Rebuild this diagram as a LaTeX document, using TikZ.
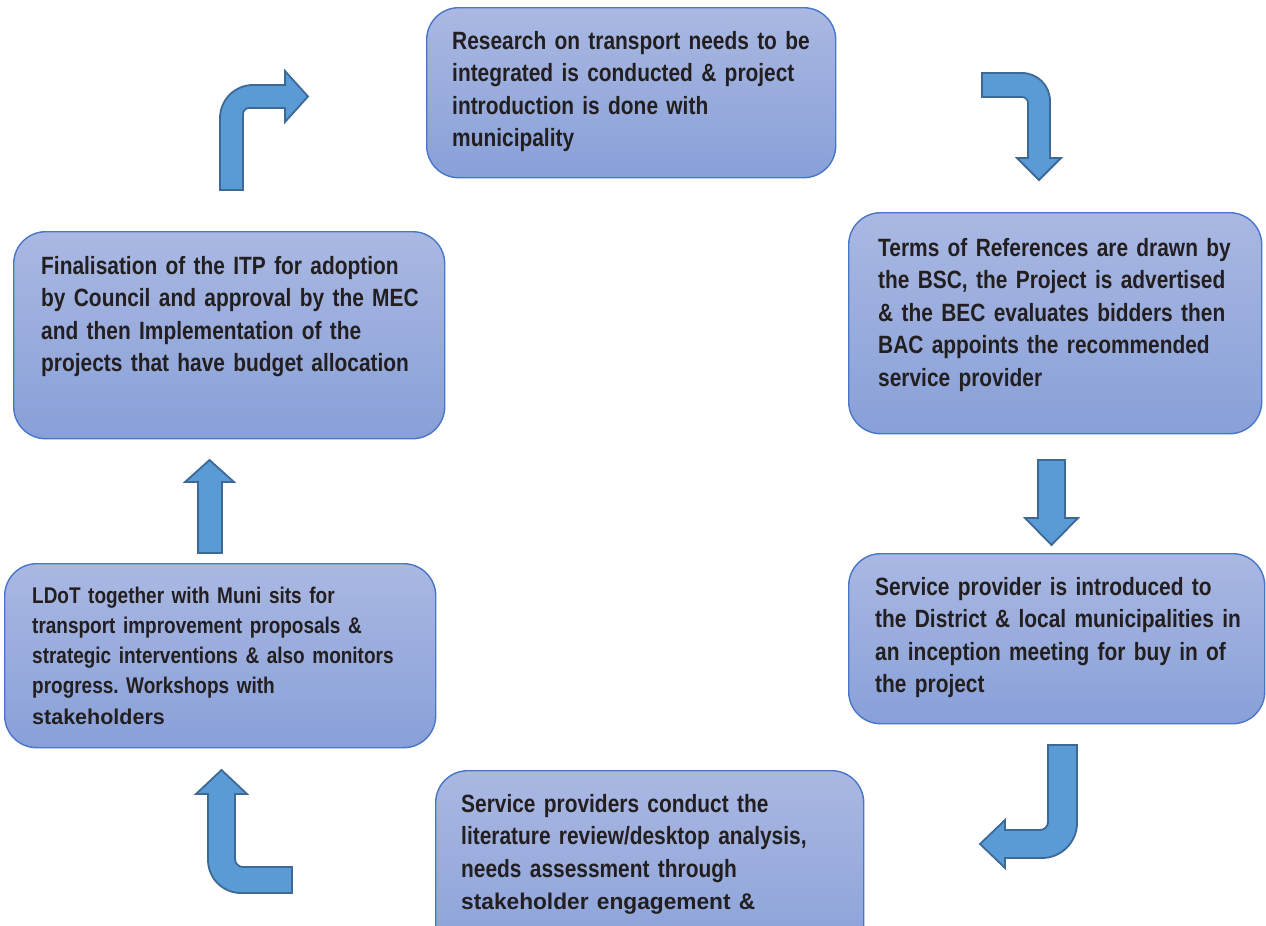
\documentclass[tikz,border=0pt]{standalone}
\usepackage{fontspec}
\newfontfamily\narrowbold[FakeStretch=0.836]{Liberation Sans}
\newfontfamily\widebold{Liberation Sans}
\frenchspacing
\definecolor{boxtop}{RGB}{170,184,226}
\definecolor{boxbot}{RGB}{136,160,216}
\definecolor{boxline}{RGB}{72,118,200}
\definecolor{arrfill}{RGB}{91,155,213}
\definecolor{arrline}{RGB}{60,105,150}
\definecolor{txt}{RGB}{35,31,32}
\tikzset{
  stepbox/.style={draw=boxline, line width=1.4pt, rounded corners=32pt,
    top color=boxtop, bottom color=boxbot, anchor=north west, inner sep=0pt},
  steptext/.style={anchor=base west, inner sep=0pt, text width=420pt, align=left,
    text=txt, font=\narrowbold\bfseries\fontsize{25}{32.5}\selectfont},
  smalltext/.style={steptext, font=\narrowbold\bfseries\fontsize{22.7}{30}\selectfont},
  blockarrow/.style={fill=arrfill, draw=arrline, line width=1.8pt, line join=miter}
}
\begin{document}
\begin{tikzpicture}[x=1pt,y=-1pt]
\useasboundingbox (0,0) rectangle (1266,926);
\clip (0,0) rectangle (1266,926);
% boxes
\node[stepbox, minimum width=409pt, minimum height=170pt] (b1) at (426,7) {};
\node[stepbox, minimum width=413pt, minimum height=221pt] (b2) at (848,212) {};
\node[stepbox, minimum width=416pt, minimum height=170pt] (b3) at (848,553) {};
\node[stepbox, minimum width=428pt, minimum height=200pt] (b4) at (435,770) {};
\node[stepbox, minimum width=431pt, minimum height=184pt] (b5) at (4,563) {};
\node[stepbox, minimum width=431pt, minimum height=207pt] (b6) at (13,231) {};
% texts
\node[steptext] (t1) at (452,49) {Research on transport needs to be\\integrated is conducted \& project\\introduction is done with\\municipality};
\node[steptext] (t2) at (878,256) {Terms of References are drawn by\\the BSC, the Project is advertised\\\& the BEC evaluates bidders then\\BAC appoints the recommended\\service provider};
\node[steptext] (t3) at (875,595) {Service provider is introduced to\\the District \& local municipalities in\\an inception meeting for buy in of\\the project};
\node[steptext] (t4) at (461,812) {Service providers conduct the\\literature review/desktop analysis,\\needs assessment through\\{\widebold\fontsize{22.7}{32.5}\selectfont stakeholder engagement \&}};
\node[smalltext] (t5) at (32,603) {LDoT together with Muni sits for\\transport improvement proposals \&\\strategic interventions \& also monitors\\progress. Workshops with\\[1pt]{\widebold\fontsize{21.5}{30}\selectfont stakeholders}};
\node[steptext] (t6) at (41,274) {Finalisation of the ITP for adoption\\by Council and approval by the MEC\\and then Implementation of the\\projects that have budget allocation};
% block arrows
\draw[blockarrow] (220,190) -- (220,118) .. controls (220,99.8) and (234.8,85) .. (253,85) -- (285,85) -- (285,71) -- (308,96.5) -- (285,122) -- (285,108) -- (249,108) .. controls (245.7,108) and (243,110.7) .. (243,114) -- (243,190) -- cycle;
\draw[blockarrow] (982,73) -- (1022,73) .. controls (1037.5,73) and (1050,85.5) .. (1050,101) -- (1050,158) -- (1061,158) -- (1039,180) -- (1017,158) -- (1028,158) -- (1028,103) .. controls (1028,99.7) and (1025.3,97) .. (1022,97) -- (982,97) -- cycle;
\draw[blockarrow] (1038,460) -- (1065,460) -- (1065,518) -- (1078,518) -- (1051.5,545) -- (1025,518) -- (1038,518) -- cycle;
\draw[blockarrow] (1048,745) -- (1077,745) -- (1077,823) .. controls (1077,842.3) and (1061.3,858) .. (1042,858) -- (1005,858) -- (1005,868) -- (980,844) -- (1005,820) -- (1005,830) -- (1040,830) .. controls (1044.4,830) and (1048,826.4) .. (1048,822) -- cycle;
\draw[blockarrow] (208,794) -- (196,794) -- (221.5,770) -- (247,794) -- (235,794) -- (235,859) .. controls (235,863.4) and (238.6,867) .. (243,867) -- (292,867) -- (292,893) -- (241,893) .. controls (222.8,893) and (208,878.2) .. (208,860) -- cycle;
\draw[blockarrow] (198,553) -- (198,482) -- (185,482) -- (209.5,460) -- (234,482) -- (222,482) -- (222,553) -- cycle;
\end{tikzpicture}
\end{document}
